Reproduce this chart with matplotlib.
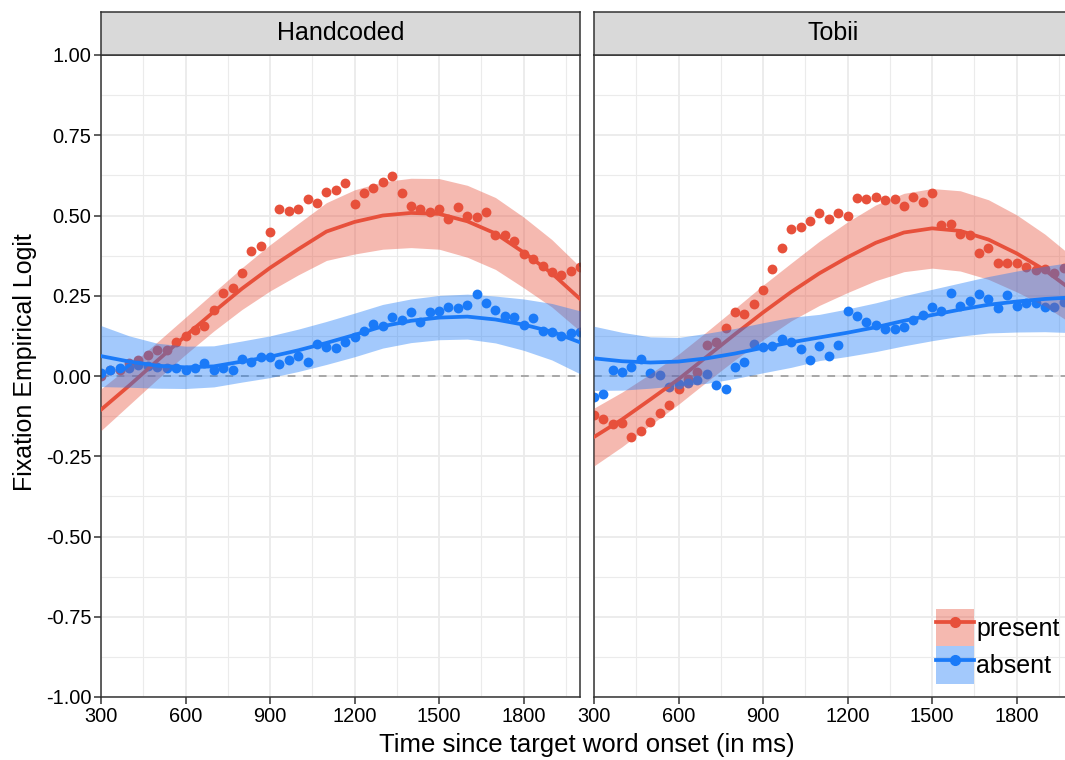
import numpy as np
import matplotlib.pyplot as plt
from matplotlib.patches import Patch
from matplotlib.lines import Line2D

plt.rcParams['font.family'] = ['Liberation Sans', 'DejaVu Sans']

# time bins (ms) for the empirical logit points
time_ms = [300, 333, 367, 400, 433, 467, 500, 533, 567, 600,
           633, 667, 700, 733, 767, 800, 833, 867, 900, 933,
           967, 1000, 1033, 1067, 1100, 1133, 1167, 1200, 1233, 1267,
           1300, 1333, 1367, 1400, 1433, 1467, 1500, 1533, 1567, 1600,
           1633, 1667, 1700, 1733, 1767, 1800, 1833, 1867, 1900, 1933,
           1967, 2000]

hand_present = [0.00, 0.02, 0.02, 0.04, 0.05, 0.065, 0.08, 0.08, 0.106, 0.125,
                0.143, 0.156, 0.206, 0.258, 0.274, 0.32, 0.39, 0.405, 0.449, 0.52,
                0.515, 0.52, 0.551, 0.54, 0.573, 0.578, 0.60, 0.535, 0.57, 0.585,
                0.605, 0.623, 0.57, 0.53, 0.52, 0.51, 0.52, 0.49, 0.527, 0.50,
                0.495, 0.51, 0.44, 0.44, 0.42, 0.38, 0.364, 0.343, 0.325, 0.315,
                0.327, 0.34]
hand_absent = [0.01, 0.02, 0.025, 0.024, 0.035, 0.03, 0.028, 0.024, 0.024, 0.02,
               0.024, 0.039, 0.018, 0.024, 0.02, 0.053, 0.043, 0.06, 0.058, 0.036,
               0.05, 0.063, 0.043, 0.10, 0.091, 0.088, 0.105, 0.122, 0.141, 0.162,
               0.157, 0.185, 0.174, 0.198, 0.169, 0.20, 0.203, 0.214, 0.213, 0.221,
               0.254, 0.226, 0.206, 0.188, 0.185, 0.159, 0.182, 0.141, 0.138, 0.125,
               0.133, 0.138]
tobii_present = [-0.121, -0.134, -0.15, -0.145, -0.189, -0.171, -0.142, -0.114, -0.09, -0.04,
                 -0.01, 0.013, 0.097, 0.105, 0.15, 0.20, 0.192, 0.223, 0.268, 0.332,
                 0.40, 0.458, 0.463, 0.483, 0.507, 0.489, 0.509, 0.498, 0.553, 0.55,
                 0.557, 0.548, 0.55, 0.53, 0.559, 0.543, 0.571, 0.47, 0.474, 0.442,
                 0.439, 0.384, 0.398, 0.353, 0.353, 0.353, 0.34, 0.33, 0.332, 0.322,
                 0.335, 0.33]
tobii_absent = [-0.064, -0.056, 0.019, 0.013, 0.027, 0.053, 0.008, 0.003, -0.033, -0.026,
                -0.023, -0.012, 0.006, -0.028, -0.04, 0.027, 0.043, 0.10, 0.091, 0.093,
                0.114, 0.107, 0.084, 0.05, 0.094, 0.062, 0.097, 0.203, 0.188, 0.167,
                0.159, 0.145, 0.145, 0.152, 0.174, 0.19, 0.216, 0.203, 0.258, 0.219,
                0.234, 0.255, 0.239, 0.213, 0.252, 0.218, 0.228, 0.226, 0.216, 0.216,
                0.23, 0.23]

# model fit + confidence band
fit_ms = [300, 400, 500, 600, 700, 800, 900, 1000, 1100, 1200,
          1300, 1400, 1500, 1600, 1700, 1800, 1900, 2000]

hand_present_fit = [-0.105, -0.03, 0.048, 0.125, 0.20, 0.272, 0.337, 0.395, 0.45, 0.48,
                    0.50, 0.508, 0.505, 0.482, 0.444, 0.385, 0.32, 0.24]
hand_present_lo = [-0.17, -0.09, -0.01, 0.067, 0.14, 0.207, 0.265, 0.315, 0.36, 0.38,
                   0.395, 0.40, 0.395, 0.37, 0.332, 0.275, 0.215, 0.14]
hand_present_hi = [-0.04, 0.03, 0.106, 0.183, 0.26, 0.337, 0.409, 0.475, 0.54, 0.58,
                   0.605, 0.616, 0.615, 0.594, 0.556, 0.495, 0.425, 0.34]

hand_absent_fit = [0.062, 0.045, 0.032, 0.027, 0.03, 0.045, 0.06, 0.08, 0.103, 0.128,
                   0.155, 0.172, 0.182, 0.185, 0.176, 0.16, 0.138, 0.105]
hand_absent_lo = [-0.033, -0.035, -0.038, -0.039, -0.034, -0.019, -0.005, 0.014, 0.036, 0.06,
                  0.087, 0.104, 0.113, 0.115, 0.103, 0.08, 0.05, 0.007]
hand_absent_hi = [0.157, 0.125, 0.102, 0.093, 0.094, 0.109, 0.125, 0.146, 0.17, 0.196,
                  0.223, 0.24, 0.251, 0.255, 0.249, 0.24, 0.226, 0.203]

tobii_present_fit = [-0.19, -0.135, -0.073, -0.01, 0.06, 0.13, 0.198, 0.262, 0.32, 0.37,
                     0.415, 0.447, 0.46, 0.452, 0.425, 0.382, 0.33, 0.265]
tobii_present_lo = [-0.28, -0.22, -0.153, -0.088, -0.018, 0.05, 0.113, 0.172, 0.22, 0.26,
                    0.297, 0.325, 0.336, 0.327, 0.301, 0.262, 0.218, 0.16]
tobii_present_hi = [-0.10, -0.05, 0.007, 0.068, 0.138, 0.21, 0.283, 0.352, 0.42, 0.48,
                    0.533, 0.569, 0.584, 0.577, 0.549, 0.502, 0.442, 0.37]

tobii_absent_fit = [0.055, 0.046, 0.042, 0.045, 0.055, 0.07, 0.088, 0.105, 0.12, 0.135,
                    0.152, 0.172, 0.19, 0.207, 0.222, 0.232, 0.24, 0.245]
tobii_absent_lo = [-0.045, -0.044, -0.038, -0.03, -0.023, -0.008, 0.01, 0.027, 0.048, 0.061,
                   0.076, 0.094, 0.11, 0.124, 0.134, 0.137, 0.138, 0.135]
tobii_absent_hi = [0.155, 0.136, 0.122, 0.12, 0.133, 0.148, 0.166, 0.183, 0.192, 0.209,
                   0.228, 0.25, 0.27, 0.29, 0.31, 0.327, 0.342, 0.355]

panel_names = ["Handcoded", "Tobii"]
x_ticks = [300, 600, 900, 1200, 1500, 1800]
y_ticks = [-1.0, -0.75, -0.5, -0.25, 0.0, 0.25, 0.5, 0.75, 1.0]
y_labels = ["-1.00", "-0.75", "-0.50", "-0.25", "0.00", "0.25", "0.50", "0.75", "1.00"]

RED = '#E7503B'
BLUE = '#1A7AF8'
EDGE = '#333333'
W, H = 1065, 760


def px_box(l, t, r, b):
    return [l / W, 1 - b / H, (r - l) / W, (b - t) / H]


fig = plt.figure(figsize=(W / 100, H / 100), dpi=100)

panels = [
    (hand_present, hand_absent,
     (hand_present_fit, hand_present_lo, hand_present_hi),
     (hand_absent_fit, hand_absent_lo, hand_absent_hi), 101),
    (tobii_present, tobii_absent,
     (tobii_present_fit, tobii_present_lo, tobii_present_hi),
     (tobii_absent_fit, tobii_absent_lo, tobii_absent_hi), 594),
]

for k, (pres, absn, pfit, afit, x0) in enumerate(panels):
    ax = fig.add_axes(px_box(x0, 55, x0 + 479, 697))
    ax.set_xlim(300, 2000)
    ax.set_ylim(-1, 1)
    ax.set_xticks(x_ticks)
    ax.set_xticks([450, 750, 1050, 1350, 1650, 1950], minor=True)
    ax.set_yticks(y_ticks)
    ax.set_yticks([-0.875, -0.625, -0.375, -0.125, 0.125, 0.375, 0.625, 0.875], minor=True)
    ax.set_yticklabels(y_labels)
    ax.grid(which='major', color='#EBEBEB', lw=1.3)
    ax.grid(which='minor', color='#EBEBEB', lw=0.8)
    ax.set_axisbelow(True)
    ax.tick_params(which='major', length=5, width=1.1, color=EDGE,
                   labelsize=14.4, labelcolor='black', pad=2)
    ax.tick_params(which='minor', length=0)
    if k == 1:
        ax.tick_params(which='major', axis='y', left=False, labelleft=False)
    for s in ax.spines.values():
        s.set_color(EDGE)
        s.set_linewidth(1.1)

    ax.axhline(0, color='#A8A8A8', ls=(0, (4, 4)), lw=1.4, zorder=1)
    ax.scatter(time_ms, pres, s=50, color=RED, lw=0, zorder=2)
    ax.scatter(time_ms, absn, s=50, color=BLUE, lw=0, zorder=2)
    ax.fill_between(fit_ms, pfit[1], pfit[2], color=RED, alpha=0.4, lw=0, zorder=3)
    ax.plot(fit_ms, pfit[0], color=RED, lw=2.7, zorder=3)
    ax.fill_between(fit_ms, afit[1], afit[2], color=BLUE, alpha=0.4, lw=0, zorder=4)
    ax.plot(fit_ms, afit[0], color=BLUE, lw=2.7, zorder=4)

    strip = fig.add_axes(px_box(x0, 12, x0 + 479, 55))
    strip.set_facecolor('#D9D9D9')
    strip.set_xticks([])
    strip.set_yticks([])
    for s in strip.spines.values():
        s.set_color(EDGE)
        s.set_linewidth(1.1)
    strip.text(0.5, 0.5, panel_names[k], ha='center', va='center',
               fontsize=18, transform=strip.transAxes)

fig.text(25 / W, 1 - 362 / H, 'Fixation Empirical Logit', rotation=90,
         ha='center', va='center', fontsize=18)
fig.text(587 / W, 1 - 745 / H, 'Time since target word onset (in ms)',
         ha='center', va='center', fontsize=18.5)

handles = [
    (Patch(facecolor=RED, alpha=0.4, lw=0),
     Line2D([], [], color=RED, lw=2.7, marker='o', ms=7)),
    (Patch(facecolor=BLUE, alpha=0.4, lw=0),
     Line2D([], [], color=BLUE, lw=2.7, marker='o', ms=7)),
]
fig.legend(handles, ['present', 'absent'], loc='upper left',
           bbox_to_anchor=(936 / W, 1 - 609 / H), frameon=False, fontsize=18,
           handlelength=1.5, handleheight=1.93, labelspacing=0.0,
           handletextpad=0.1, borderpad=0, borderaxespad=0, numpoints=1)

fig.savefig('out.png', dpi=100)
